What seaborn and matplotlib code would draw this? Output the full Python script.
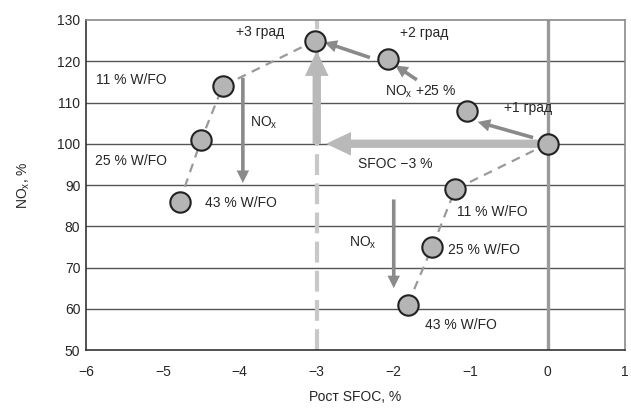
import matplotlib
matplotlib.use("Agg")
import matplotlib.pyplot as plt
import seaborn as sns
import pandas as pd

# ---- data ----
wfo_left_x = [-4.78, -4.50, -4.22, -3.02]
wfo_left_y = [86, 101, 114, 125]
timing_x = [-2.07, -1.05]
timing_y = [120.5, 108]
wfo_right_x = [0.0, -1.20, -1.50, -1.82]
wfo_right_y = [100, 89, 75, 61]
x_ticks = [-6, -5, -4, -3, -2, -1, 0, 1]
y_ticks = [50, 60, 70, 80, 90, 100, 110, 120, 130]

sns.set_style("white")
plt.rcParams['font.family'] = ['Liberation Sans', 'DejaVu Sans']
plt.rcParams['mathtext.default'] = 'regular'

fig = plt.figure(figsize=(6.31, 4.08), dpi=100)
ax = fig.add_axes([0.136, 0.142, 0.854, 0.809])

ax.set_xlim(-6, 1)
ax.set_ylim(50, 130)
ax.set_xticks(x_ticks)
ax.set_yticks(y_ticks)
ax.set_xticklabels(["\u2212" + str(abs(v)) if v < 0 else str(v) for v in x_ticks])
for y in y_ticks[1:-1]:
    ax.axhline(y, color="#555555", lw=1.0, zorder=0)

# vertical reference lines
ax.axvline(-3, color="#c8c8c8", lw=3, dashes=(5, 2), zorder=1)
ax.axvline(0, color="#9a9a9a", lw=2.4, zorder=1)

# dashed curves
df_l = pd.DataFrame({"x": wfo_left_x, "y": wfo_left_y})
df_r = pd.DataFrame({"x": wfo_right_x, "y": wfo_right_y})
for d in (df_l, df_r):
    sns.lineplot(data=d, x="x", y="y", sort=False, ax=ax, color="#9a9a9a",
                 lw=1.6, dashes=False, linestyle=(0, (4, 3)), zorder=2)

# big light arrows
big = dict(color="#b9b9b9", width=6, headwidth=17, headlength=18, shrink=0, lw=0)
ax.annotate("", xy=(-2.88, 100), xytext=(-0.02, 100), arrowprops=big, zorder=3)
ax.annotate("", xy=(-3.0, 122.5), xytext=(-3.0, 100), arrowprops=big, zorder=3)

# medium arrows
med = dict(color="#8a8a8a", width=2.6, headwidth=9, headlength=9, shrink=0, lw=0)
ax.annotate("", xy=(-2.90, 124.6), xytext=(-2.31, 120.9), arrowprops=med, zorder=3)
ax.annotate("", xy=(-1.98, 119.0), xytext=(-1.70, 115.5), arrowprops=med, zorder=3)
ax.annotate("", xy=(-0.91, 105.3), xytext=(-0.19, 101.5), arrowprops=med, zorder=3)
ax.annotate("", xy=(-3.96, 90.5), xytext=(-3.96, 116), arrowprops=med, zorder=3)
ax.annotate("", xy=(-2.0, 65), xytext=(-2.0, 86.5), arrowprops=med, zorder=3)

# markers
all_x = wfo_left_x + timing_x + wfo_right_x
all_y = wfo_left_y + timing_y + wfo_right_y
sns.scatterplot(x=all_x, y=all_y, ax=ax, s=215, color="#b5b5b5",
                edgecolor="#222222", linewidth=1.5, zorder=5)

fs = 10
ax.text(-3.73, 127, "+3 град", ha="center", va="center", fontsize=fs)
ax.text(-1.61, 126.8, "+2 град", ha="center", va="center", fontsize=fs)
ax.text(-1.65, 112.6, "NO$_x$ +25 %", ha="center", va="center", fontsize=fs)
ax.text(-0.25, 108.7, "+1 град", ha="center", va="center", fontsize=fs)
ax.text(-5.41, 115.5, "11 % W/FO", ha="center", va="center", fontsize=fs)
ax.text(-5.41, 95.9, "25 % W/FO", ha="center", va="center", fontsize=fs)
ax.text(-4.45, 85.7, "43 % W/FO", ha="left", va="center", fontsize=fs)
ax.text(-3.69, 105, "NO$_x$", ha="center", va="center", fontsize=fs)
ax.text(-2.47, 95.2, "SFOC \u22123 %", ha="left", va="center", fontsize=fs)
ax.text(-1.18, 83.5, "11 % W/FO", ha="left", va="center", fontsize=fs)
ax.text(-1.29, 74.3, "25 % W/FO", ha="left", va="center", fontsize=fs)
ax.text(-1.60, 56, "43 % W/FO", ha="left", va="center", fontsize=fs)
ax.text(-2.40, 76, "NO$_x$", ha="center", va="center", fontsize=fs)

ax.set_xlabel("Рост SFOC, %", fontsize=fs, labelpad=8)
ax.set_ylabel("NO$_x$, %", fontsize=fs, labelpad=18)
ax.tick_params(axis="x", direction="in", length=5, width=1, color="#444444",
               labelsize=fs, pad=11)
ax.tick_params(axis="y", length=0, labelsize=fs, pad=4)

for side in ("left", "bottom"):
    ax.spines[side].set_color("#333333")
    ax.spines[side].set_linewidth(1.2)
for side in ("top", "right"):
    ax.spines[side].set_color("#8a8a8a")
    ax.spines[side].set_linewidth(1.2)

fig.savefig("out.png", dpi=100)
